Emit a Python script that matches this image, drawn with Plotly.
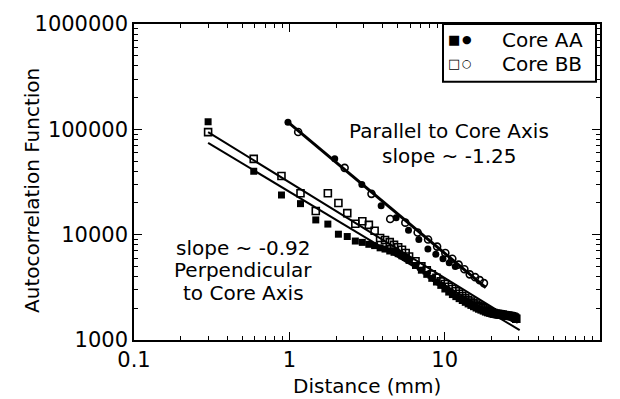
import plotly.graph_objects as go

# ---------------- data ----------------
# Perpendicular to core axis (squares), distance in mm
perp_x = [0.30, 0.59, 0.89, 1.18, 1.48, 1.77, 2.07, 2.36, 2.66, 2.95,
          3.25, 3.54, 3.84, 4.13, 4.43, 4.72, 5.02, 5.31, 5.61, 5.90,
          6.49, 7.08, 7.67, 8.26, 8.85, 9.44, 10.03, 10.62, 11.21, 11.80,
          12.39, 12.98, 13.57, 14.16, 14.75, 15.34, 15.93, 16.52, 17.11, 17.70,
          18.29, 18.88, 19.47, 20.06, 20.65, 21.24, 21.83, 22.42, 23.01, 23.60,
          24.19, 24.78, 25.37, 25.96, 26.55, 27.14, 27.73, 28.32, 28.91]
perp_aa = [118000, 40000, 23800, 19700, 13800, 12600, 10100, 9600, 8700, 8450,
           8100, 7870, 7500, 7300, 7000, 6800, 6600, 6300, 6100, 5700,
           5100, 4600, 4200, 3850, 3550, 3300, 3050, 2850, 2700, 2580,
           2470, 2370, 2280, 2200, 2130, 2070, 2010, 1960, 1920, 1880,
           1840, 1810, 1790, 1770, 1750, 1740, 1730, 1720, 1710, 1700,
           1700, 1690, 1680, 1680, 1670, 1660, 1650, 1640, 1620]
perp_bb = [94000, 52400, 36000, 24700, 16800, 24700, 20000, 16000, 12700, 13400,
           12400, 10900, 9300, 8900, 8500, 8000, 7600, 7200, 6700, 6200,
           5600, 5000, 4600, 4200, 3900, 3600, 3400, 3200, 3050, 2900,
           2750, 2620, 2500, 2400, 2320, 2240, 2170, 2110, 2050, 2000,
           1950, 1900, 1860, 1830, 1800, 1780, 1770, 1760, 1750, 1740,
           1730, 1720, 1710, 1700, 1690, 1680, 1660, 1630, 1590]

# Parallel to core axis (circles)
par_aa_x = [0.98, 1.96, 2.93, 3.90, 4.87, 5.85, 6.82, 7.80, 8.77, 9.75, 10.7, 11.7]
par_aa = [117000, 52500, 30000, 18800, 14500, 11000, 9000, 7300, 6500, 5900, 5400, 5000]
par_bb_x = [1.14, 2.27, 3.38, 4.46, 5.58, 6.70, 7.82, 8.94, 10.1, 11.2,
            12.3, 13.4, 14.5, 15.7, 16.8, 17.9]
par_bb = [94400, 43100, 24400, 14100, 13000, 10500, 9000, 7700, 6700, 5900,
          5200, 4700, 4200, 3950, 3700, 3470]

# Power-law fit lines (end points)
fit_perp_aa_x = [0.30, 30.4]
fit_perp_aa_y = [74300, 1240]
fit_perp_bb_x = [0.30, 29.5]
fit_perp_bb_y = [94000, 1450]
fit_par_x = [0.98, 18.4]
fit_par_y = [117000, 3140]

x_tick_vals = [0.1, 1, 10, 100]
x_tick_text = ["0.1", "1", "10", "100"]
y_tick_vals = [1000, 10000, 100000, 1000000]
y_tick_text = ["1000", "10000", "100000", "1000000"]

legend_labels = ["Core AA", "Core BB"]
x_title = "Distance (mm)"
y_title = "Autocorrelation Function"

# ---------------- figure ----------------
FONT = "DejaVu Sans"
fig = go.Figure()

line_style = dict(color="black", width=2)
fig.add_trace(go.Scatter(x=fit_perp_aa_x, y=fit_perp_aa_y, mode="lines",
                         line=line_style, showlegend=False, hoverinfo="skip"))
fig.add_trace(go.Scatter(x=fit_perp_bb_x, y=fit_perp_bb_y, mode="lines",
                         line=line_style, showlegend=False, hoverinfo="skip"))
fig.add_trace(go.Scatter(x=fit_par_x, y=fit_par_y, mode="lines",
                         line=dict(color="black", width=3), showlegend=False,
                         hoverinfo="skip"))

fig.add_trace(go.Scatter(x=perp_x, y=perp_aa, mode="markers", name="AA perpendicular",
                         marker=dict(symbol="square", size=7, color="black",
                                     line=dict(width=0)), showlegend=False))
fig.add_trace(go.Scatter(x=perp_x, y=perp_bb, mode="markers", name="BB perpendicular",
                         marker=dict(symbol="square-open", size=7, color="black",
                                     line=dict(width=1.6, color="black")),
                         showlegend=False))
fig.add_trace(go.Scatter(x=par_aa_x, y=par_aa, mode="markers", name="AA parallel",
                         marker=dict(symbol="circle", size=7, color="black",
                                     line=dict(width=0)), showlegend=False))
fig.add_trace(go.Scatter(x=par_bb_x, y=par_bb, mode="markers", name="BB parallel",
                         marker=dict(symbol="circle-open", size=7, color="black",
                                     line=dict(width=1.6, color="black")),
                         showlegend=False))

x_minor = [m * 10.0 ** e for e in range(-1, 2) for m in range(2, 10)]
y_minor = [m * 10.0 ** e for e in range(3, 6) for m in range(2, 10)]

axis_common = dict(
    type="log", showgrid=False, zeroline=False,
    showline=True, linecolor="black", linewidth=1.5, mirror="allticks",
    ticks="inside", ticklen=8, tickwidth=1.3, tickcolor="black",
    tickfont=dict(family=FONT, size=21, color="black"),
    tickmode="array",
)
fig.update_xaxes(**axis_common, range=[-1, 2], tickvals=x_tick_vals,
                 ticktext=x_tick_text,
                 minor=dict(tickmode="array", tickvals=x_minor, ticks="inside",
                            ticklen=4, tickwidth=1, tickcolor="black",
                            showgrid=False))
fig.update_yaxes(**axis_common, range=[3, 6], tickvals=y_tick_vals,
                 ticktext=y_tick_text,
                 minor=dict(tickmode="array", tickvals=y_minor, ticks="inside",
                            ticklen=4, tickwidth=1, tickcolor="black",
                            showgrid=False))

# plot area in pixels: x 134..600, y 22..340
L, R, T, B = 134, 600, 22, 340
W, H = R - L, B - T


def px(xp):
    return (xp - L) / W


def py(yp):
    return (B - yp) / H


ann = []


def text(xp, yp, s, size=20, xanchor="center", angle=0):
    ann.append(dict(x=px(xp), y=py(yp), xref="paper", yref="paper", text=s,
                    showarrow=False, xanchor=xanchor, yanchor="middle",
                    textangle=angle,
                    font=dict(family=FONT, size=size, color="black")))


text(449, 130, "Parallel to Core Axis")
text(449, 155, "slope ~ -1.25")
text(243, 247, "slope ~ -0.92")
text(243, 270, "Perpendicular")
text(243, 293, "to Core Axis")
text(367, 386, x_title)
text(32, 190, y_title, angle=-90)

# legend box
fig.add_shape(type="rect", xref="paper", yref="paper",
              x0=px(443), x1=px(596), y0=py(80), y1=py(22),
              line=dict(color="black", width=2), fillcolor="white", layer="above")
text(454, 38, "■", size=13)
text(467, 38, "●", size=11)
text(500, 38, legend_labels[0], size=20, xanchor="left")
text(454, 62, "□", size=13)
text(467, 62, "○", size=11)
text(500, 62, legend_labels[1], size=20, xanchor="left")

fig.update_layout(
    width=620, height=399,
    margin=dict(l=L, r=620 - R, t=T, b=399 - B),
    paper_bgcolor="white", plot_bgcolor="white",
    annotations=ann, showlegend=False,
    font=dict(family=FONT, color="black"),
)

fig.write_html("out.html",
               config={"displayModeBar": False},
               post_script="document.body.style.margin='0';"
                           "document.body.style.overflow='hidden';")
